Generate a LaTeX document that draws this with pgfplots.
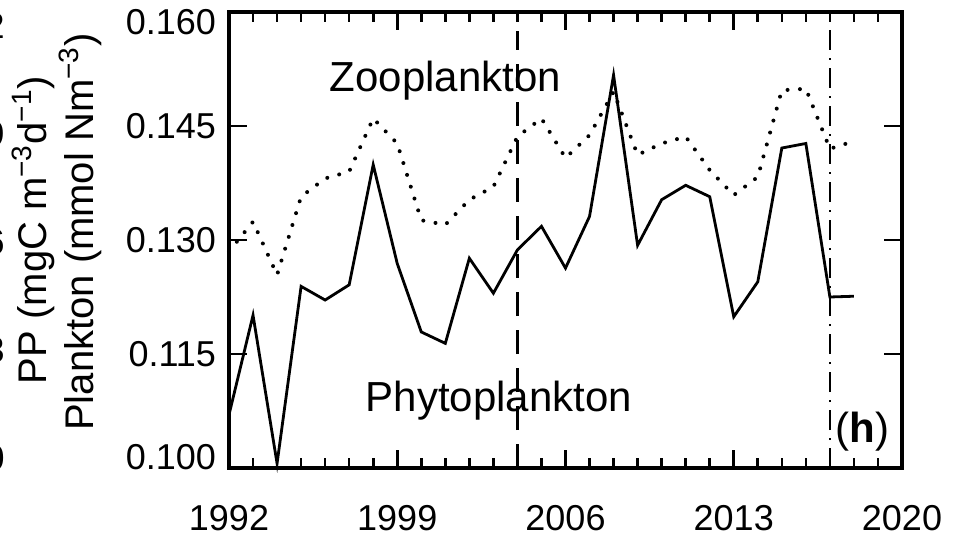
\documentclass[border=0pt]{standalone}
\usepackage{fontspec}
\setmainfont{Liberation Sans}
\usepackage{pgfplots}
\pgfplotsset{compat=1.18}
\begin{document}
\begin{tikzpicture}
\begin{axis}[
  at={(0,0)}, anchor=south west,
  width=336.5bp, height=228bp, scale only axis,
  xmin=1992, xmax=2020, ymin=0.100, ymax=0.160,
  xtick={1992,1999,2006,2013,2020}, minor x tick num=6,
  ytick={0.100,0.115,0.130,0.145,0.160},
  axis line style={line width=1.6bp},
  tick style={black, line width=1.3bp},
  major tick length=9bp, minor tick length=5bp,
  tick label style={font=\fontsize{18bp}{21bp}\selectfont},
  /pgf/number format/assume math mode=true,
  x tick label style={/pgf/number format/1000 sep={}, yshift=-15bp},
  y tick label style={/pgf/number format/.cd, fixed, fixed zerofill, precision=3, /tikz/xshift=-3bp,
     /tikz/yshift={5.5bp*(\ticknum==0)-5bp*(\ticknum==4)}},
  scaled y ticks=false,
  clip=false,
]
\addplot[black, line width=1.4bp, line join=miter] coordinates {
(1992,0.1070) (1993,0.1201) (1994,0.1006) (1995,0.1239) (1996,0.1221) (1997,0.1241)
(1998,0.1399) (1999,0.1269) (2000,0.1179) (2001,0.1164) (2002,0.1276) (2003,0.1230)
(2004,0.1287) (2005,0.1318) (2006,0.1263) (2007,0.1331) (2008,0.1517) (2009,0.1293)
(2010,0.1353) (2011,0.1372) (2012,0.1357) (2013,0.1199) (2014,0.1245) (2015,0.1421)
(2016,0.1427) (2017,0.1225) (2018,0.1226)};
\addplot[black, line width=2bp, line cap=round, dash pattern=on 0pt off 6.2bp] coordinates {
(1992,0.1285) (1993,0.1324) (1994,0.1254) (1995,0.1357) (1996,0.1381) (1997,0.1390)
(1998,0.1460) (1999,0.1427) (2000,0.1326) (2001,0.1320) (2002,0.1353) (2003,0.1370)
(2004,0.1436) (2005,0.1460) (2006,0.1408) (2007,0.1438) (2008,0.1495) (2009,0.1412)
(2010,0.1427) (2011,0.1436) (2012,0.1392) (2013,0.1359) (2014,0.1383) (2015,0.1497)
(2016,0.1499) (2017,0.1420) (2018,0.1430)};
\addplot[black, line width=1.2bp, dash pattern=on 12bp off 7bp] coordinates {(2004,0.100) (2004,0.1575)};
\addplot[black, line width=1.2bp, dash pattern=on 10bp off 4bp on 1bp off 4bp] coordinates {(2017,0.100) (2017,0.1585)};
\node[anchor=base, font=\fontsize{21bp}{24bp}\selectfont] at (axis cs:2001.0,0.1495) {Zooplankton};
\node[anchor=base, font=\fontsize{21bp}{24bp}\selectfont] at (axis cs:2003.23,0.1074) {Phytoplankton};
\node[anchor=base, font=\fontsize{21bp}{24bp}\selectfont] at (axis cs:2018.35,0.1033) {(\textbf{h})};
\end{axis}
\node[rotate=90, anchor=center, font=\fontsize{20bp}{22bp}\selectfont] at (-74.5bp,118bp) {Plankton (mmol Nm\textsuperscript{−3})};
\node[rotate=90, anchor=center, font=\fontsize{20bp}{22bp}\selectfont] at (-98bp,119bp) {PP (mgC m\textsuperscript{−3}d\textsuperscript{−1})};
\foreach \yy/\tt in {5/0.00, 59/0.03, 113/0.06, 167/0.09, 221/0.12}
  \node[anchor=east, inner sep=0pt, font=\fontsize{18bp}{21bp}\selectfont] at (-112bp,\yy bp) {\tt};
\pgfresetboundingbox
\useasboundingbox (-114.5bp,-35bp) rectangle (365bp,234bp);
\end{tikzpicture}
\end{document}
